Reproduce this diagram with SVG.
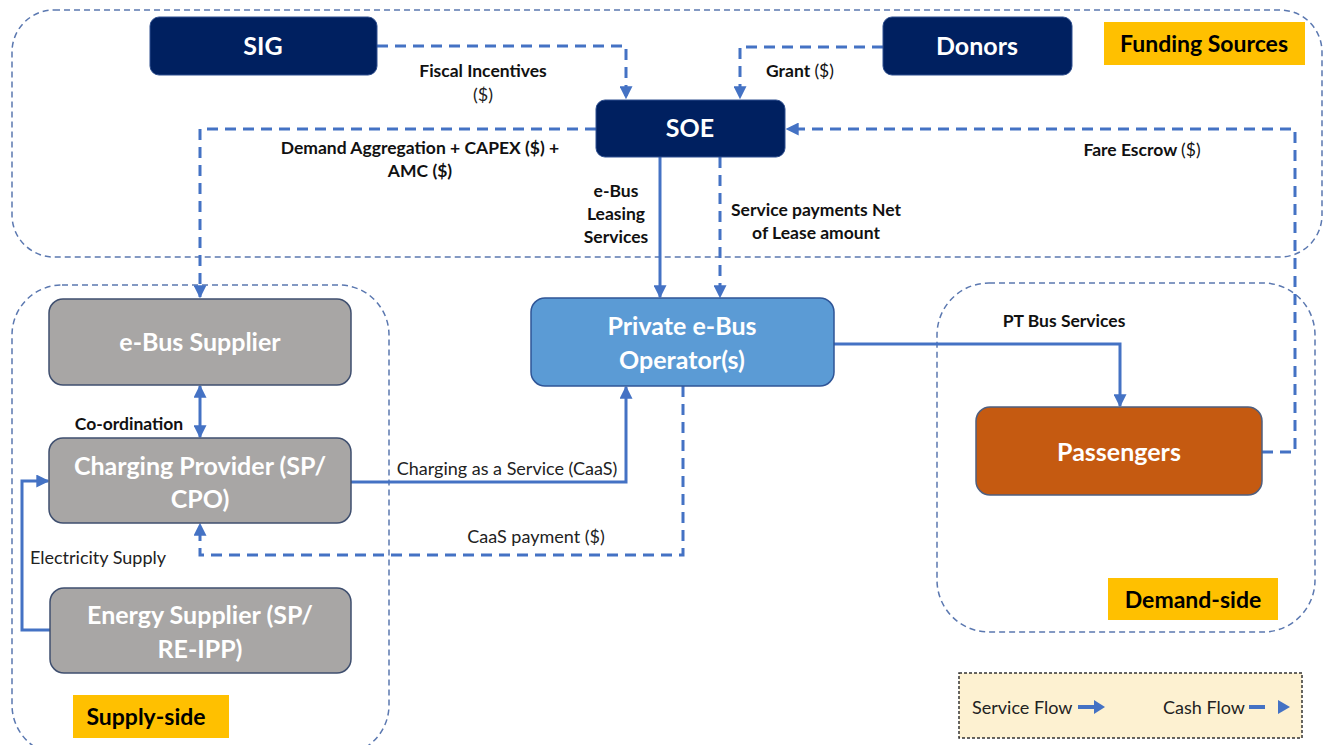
<svg xmlns="http://www.w3.org/2000/svg" width="1324" height="745" viewBox="0 0 1324 745">
  <style>
    .zone { fill: none; stroke: #5b78b0; stroke-width: 1.5; stroke-dasharray: 6 4; }
    .tag { fill: #FFC000; }
    .tagtxt { font-family: Lato, "Liberation Sans", sans-serif; font-weight: bold; font-size: 23px; fill: #000; }
    .navy { fill: #002060; stroke: #2f4f8f; stroke-width: 1; }
    .gray { fill: #A8A6A5; stroke: #3f4f6f; stroke-width: 1.5; }
    .op { fill: #5B9BD5; stroke: #2f5597; stroke-width: 1.5; }
    .pax { fill: #C55A11; stroke: #4f5f7f; stroke-width: 1.5; }
    .ntxt { font-family: Lato, "Liberation Sans", sans-serif; font-weight: bold; font-size: 25px; fill: #fff; text-anchor: middle; }
    .lbl { font-family: Lato, "Liberation Sans", sans-serif; font-weight: bold; font-size: 17.5px; fill: #111; }
    .lbln { font-family: Lato, "Liberation Sans", sans-serif; font-size: 18px; fill: #222; }
    .svc { fill: none; stroke: #4472C4; stroke-width: 3; }
    .cash { fill: none; stroke: #4472C4; stroke-width: 3; stroke-dasharray: 11 7; }
  </style>
  <defs>
    <marker id="head" viewBox="0 0 10 10" refX="9" refY="5" markerWidth="13" markerHeight="13" markerUnits="userSpaceOnUse" orient="auto-start-reverse">
      <path d="M0,0 L10,5 L0,10 z" fill="#4472C4"/>
    </marker>
  </defs>

  <rect width="1324" height="745" fill="#fff"/>

  <!-- zones -->
  <g id="zone-funding">
    <rect class="zone" x="12" y="10" width="1310" height="247" rx="42"/>
    <rect class="tag" x="1104" y="22" width="201" height="43"/>
    <text class="tagtxt" x="1204" y="52" text-anchor="middle">Funding Sources</text>
  </g>
  <g id="zone-supply">
    <rect class="zone" x="12" y="285" width="377" height="470" rx="50"/>
    <rect class="tag" x="73" y="695" width="156" height="43"/>
    <text class="tagtxt" x="146" y="725" text-anchor="middle">Supply-side</text>
  </g>
  <g id="zone-demand">
    <rect class="zone" x="937" y="283" width="378" height="349" rx="52"/>
    <rect class="tag" x="1108" y="578" width="170" height="42"/>
    <text class="tagtxt" x="1193" y="608" text-anchor="middle">Demand-side</text>
  </g>

  <!-- connectors -->
  <g id="connectors">
    <path class="cash" d="M377,46 H626 V98" marker-end="url(#head)"/>
    <path class="cash" d="M883,47 H740 V98" marker-end="url(#head)"/>
    <path class="cash" d="M596,129 H200 V297" marker-end="url(#head)"/>
    <path class="cash" d="M1262,452 H1295 V129 H787" marker-end="url(#head)"/>
    <path class="svc" d="M660,157 V297" marker-end="url(#head)"/>
    <path class="cash" d="M720,157 V297" marker-end="url(#head)"/>
    <path class="svc" d="M834,344 H1120 V406" marker-end="url(#head)"/>
    <path class="svc" d="M200,386 V437" marker-start="url(#head)" marker-end="url(#head)"/>
    <path class="svc" d="M50,630 H22 V481 H48" marker-end="url(#head)"/>
    <path class="svc" d="M351,482 H626 V387" marker-end="url(#head)"/>
    <path class="cash" d="M683,386 V555 H200 V524" marker-end="url(#head)"/>

    <text class="lbl" x="483" y="77" text-anchor="middle">Fiscal Incentives</text>
    <text class="lbln" x="483" y="101" text-anchor="middle">($)</text>
    <text class="lbl" x="800" y="77" text-anchor="middle">Grant <tspan font-weight="normal">($)</tspan></text>
    <text class="lbl" x="420" y="154" text-anchor="middle">Demand Aggregation + CAPEX ($) +</text>
    <text class="lbl" x="420" y="177" text-anchor="middle">AMC ($)</text>
    <text class="lbl" x="1142" y="156" text-anchor="middle">Fare Escrow <tspan font-weight="normal">($)</tspan></text>
    <text class="lbl" x="616" y="197" text-anchor="middle">e-Bus</text>
    <text class="lbl" x="616" y="220" text-anchor="middle">Leasing</text>
    <text class="lbl" x="616" y="243" text-anchor="middle">Services</text>
    <text class="lbl" x="816" y="216" text-anchor="middle">Service payments Net</text>
    <text class="lbl" x="816" y="239" text-anchor="middle">of Lease amount</text>
    <text class="lbl" x="1064" y="327" text-anchor="middle">PT Bus Services</text>
    <text class="lbl" x="129" y="430" text-anchor="middle">Co-ordination</text>
    <text class="lbln" x="98" y="564" text-anchor="middle">Electricity Supply</text>
    <text class="lbln" x="507" y="475" text-anchor="middle">Charging as a Service (CaaS)</text>
    <text class="lbln" x="536" y="543" text-anchor="middle">CaaS payment ($)</text>
  </g>

  <!-- nodes -->
  <g id="node-sig">
    <rect class="navy" x="150" y="17" width="227" height="58" rx="9"/>
    <text class="ntxt" x="263" y="55">SIG</text>
  </g>
  <g id="node-donors">
    <rect class="navy" x="883" y="17" width="189" height="58" rx="9"/>
    <text class="ntxt" x="977" y="55">Donors</text>
  </g>
  <g id="node-soe">
    <rect class="navy" x="596" y="100" width="189" height="57" rx="9"/>
    <text class="ntxt" x="690" y="137">SOE</text>
  </g>
  <g id="node-operator">
    <rect class="op" x="531" y="298" width="303" height="88" rx="14"/>
    <text class="ntxt" x="682" y="335">Private e-Bus</text>
    <text class="ntxt" x="682" y="369">Operator(s)</text>
  </g>
  <g id="node-passengers">
    <rect class="pax" x="976" y="407" width="286" height="88" rx="14"/>
    <text class="ntxt" x="1119" y="461">Passengers</text>
  </g>
  <g id="node-ebus-supplier">
    <rect class="gray" x="49" y="299" width="302" height="86" rx="14"/>
    <text class="ntxt" x="200" y="351">e-Bus Supplier</text>
  </g>
  <g id="node-charging">
    <rect class="gray" x="49" y="438" width="302" height="85" rx="14"/>
    <text class="ntxt" x="200" y="475">Charging Provider (SP/</text>
    <text class="ntxt" x="200" y="508">CPO)</text>
  </g>
  <g id="node-energy">
    <rect class="gray" x="50" y="588" width="301" height="85" rx="14"/>
    <text class="ntxt" x="200" y="624">Energy Supplier (SP/</text>
    <text class="ntxt" x="200" y="658">RE-IPP)</text>
  </g>

  <!-- legend -->
  <g id="legend">
    <rect x="959" y="673" width="343" height="65" fill="#FDF1D1" stroke="#333" stroke-width="1.5" stroke-dasharray="3 2"/>
    <text class="lbln" x="972" y="714" font-size="19">Service Flow</text>
    <path d="M1078,707 H1096" stroke="#4472C4" stroke-width="4"/>
    <path d="M1094,700 L1105,707 L1094,714 z" fill="#4472C4"/>
    <text class="lbln" x="1163" y="714" font-size="19">Cash Flow</text>
    <path d="M1249,707 H1265" stroke="#4472C4" stroke-width="4"/>
    <path d="M1278,700 L1290,707 L1278,714 z" fill="#4472C4"/>
  </g>
</svg>
